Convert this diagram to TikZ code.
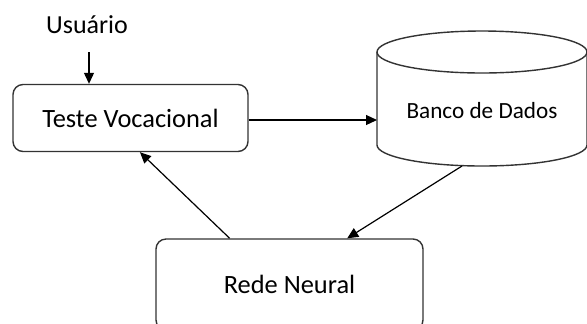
\documentclass[tikz,border=0pt]{standalone}
\usepackage{fontspec}
\setmainfont{Carlito}
\usetikzlibrary{arrows.meta,positioning,calc}
\begin{document}
\begin{tikzpicture}
	[x=0.5pt,y=-0.5pt]
	\tikzset{>={Triangle[length=5.5pt,width=5pt]}}
	\tikzstyle{caixa}=[rectangle,rounded corners=5pt,draw=black!80,line width=0.7pt,fill=white]
	\tikzstyle{banco}=[draw=black!80,line width=0.7pt]
	\tikzstyle{seta}=[->,line width=0.6pt]
	\useasboundingbox (0,0) rectangle (587,323);
	\node (usuario) at (87,25){\fontsize{13}{15}\selectfont Usuário};
	\node [caixa,minimum width=117.5pt,minimum height=33.5pt](teste) at (130.5,118){\fontsize{13.2}{15}\selectfont Teste Vocacional};
	% cilindro do banco
	\draw[banco] (377,52) -- (377,145) arc[start angle=180,end angle=0,x radius=105,y radius=21] -- (587,52);
	\draw[banco] (482,52) ellipse [x radius=105,y radius=21];
	\node (db) at (482,111){\fontsize{11.6}{14}\selectfont Banco de Dados};
	\coordinate (dbw) at (377,120);
	\coordinate (dbs) at (462,166);
	\node [caixa,minimum width=133.5pt,minimum height=45.5pt](rede) at (289.5,284.5){\fontsize{13.2}{15}\selectfont Rede Neural};
	\coordinate (u) at (89,52);
	\draw[seta] (u) -- (teste.north -| u);
	\draw[seta] (teste.east |- dbw) -- (dbw);
	\draw[seta] (dbs) -- ($(rede.north west)!0.715!(rede.north east)$);
	\draw[seta] ($(rede.north west)!0.277!(rede.north east)$) -- ($(teste.south west)!0.54!(teste.south east)$);
\end{tikzpicture}
\end{document}
